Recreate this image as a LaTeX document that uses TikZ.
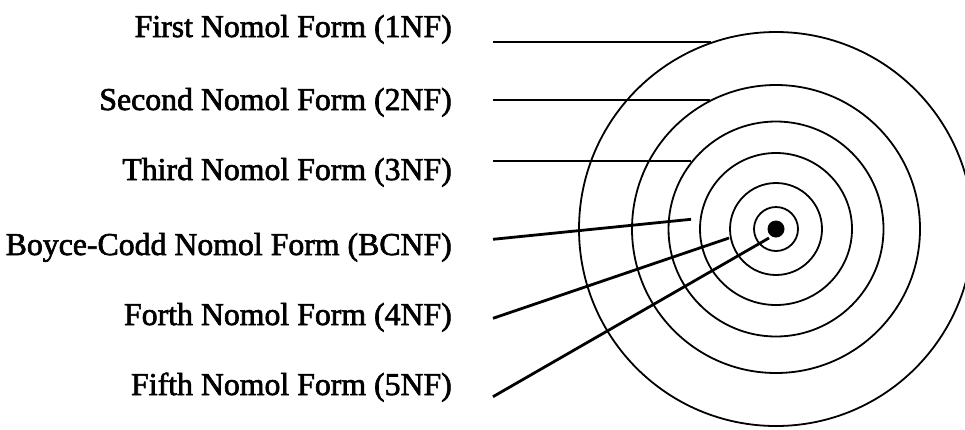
\documentclass[tikz,border=0pt]{standalone}
\usepackage{fontspec}
\setmainfont{Liberation Serif}
\newfontfamily\scanfont[FakeBold=2]{Liberation Serif}
\begin{document}
\begin{tikzpicture}[x=1pt,y=-1pt,
  lbl/.style={anchor=base east,inner sep=0pt,font=\scanfont\fontsize{31.8}{36}\selectfont},
  ring/.style={draw,circle,line width=1.8pt,inner sep=0pt,outer sep=0pt},
  flatlead/.style={line width=2pt},
  slantlead/.style={line width=2.8pt}]
\useasboundingbox (0,0) rectangle (965,429);
\clip (0,0) rectangle (965,429);
\fill[white] (0,0) rectangle (965,429);
% labels
\node[lbl] (t1) at (452,37) {First Nomol Form (1NF)};
\node[lbl] (t2) at (452,110) {Second Nomol Form (2NF)};
\node[lbl] (t3) at (452,180) {Third Nomol Form (3NF)};
\node[lbl] (t4) at (452,255) {Boyce-Codd Nomol Form (BCNF)};
\node[lbl] (t5) at (452,325) {Forth Nomol Form (4NF)};
\node[lbl] (t6) at (452,395) {Fifth Nomol Form (5NF)};
% rings
\coordinate (ctr) at (776,229);
\node[ring,minimum size=394pt] (r1) at (ctr) {};
\node[ring,minimum size=288pt] (r2) at (ctr) {};
\node[ring,minimum size=215pt] (r3) at (ctr) {};
\node[ring,minimum size=152pt] (r4) at (ctr) {};
\node[ring,minimum size=92pt] (r5) at (ctr) {};
\node[ring,minimum size=44pt] (r6) at (ctr) {};
\node[circle,fill=black,inner sep=0pt,minimum size=17pt] (dot) at (ctr) {};
% leader end points
\coordinate (s1) at (493,41.7);  \coordinate (e1) at (711,41.7);
\coordinate (s2) at (493,100);   \coordinate (e2) at (710,100);
\coordinate (s3) at (493,160.7); \coordinate (e3) at (691,160.7);
\coordinate (s4) at (493,239.3); \coordinate (e4) at (691,219.3);
\coordinate (s5) at (493,318.3); \coordinate (e5) at (729,238);
\coordinate (s6) at (493,396.7); \coordinate (e6) at (769,238);
\draw[flatlead] (s1) -- (e1);
\draw[flatlead] (s2) -- (e2);
\draw[flatlead] (s3) -- (e3);
\draw[slantlead] (s4) -- (e4);
\draw[slantlead] (s5) -- (e5);
\draw[slantlead] (s6) -- (e6);
\end{tikzpicture}
\end{document}
